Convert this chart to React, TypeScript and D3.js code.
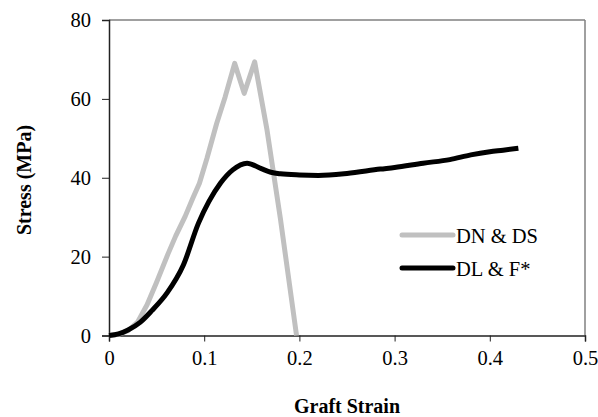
import React, { useEffect, useRef } from 'react';
import * as d3 from 'd3';

// DN & DS (gray)
const dnStrain = [0, 0.01, 0.02, 0.03, 0.04, 0.05, 0.062, 0.07, 0.08, 0.088, 0.095, 0.103, 0.113, 0.122, 0.132, 0.142, 0.153, 0.166, 0.18, 0.197];
const dnStress = [0, 0.3, 1.2, 3.4, 7.8, 13.5, 20.7, 25.2, 30.2, 34.8, 38.6, 45, 53.7, 60.5, 69, 61.4, 69.4, 52.1, 29.7, 0];

// DL & F* (black)
const dlStrain = [0, 0.01, 0.02, 0.033, 0.045, 0.061, 0.078, 0.094, 0.105, 0.117, 0.13, 0.145, 0.16, 0.17, 0.18, 0.2, 0.22, 0.25, 0.285, 0.3, 0.33, 0.358, 0.38, 0.4, 0.414, 0.43];
const dlStress = [0, 0.4, 1.4, 3.4, 6.3, 10.8, 17.8, 28.5, 34, 38.6, 42, 43.7, 42.3, 41.4, 41, 40.7, 40.6, 41.1, 42.2, 42.6, 43.7, 44.6, 45.8, 46.6, 47, 47.5];

const xTicks = [0, 0.1, 0.2, 0.3, 0.4, 0.5];
const yTicks = [0, 20, 40, 60, 80];

const seriesNames = ['DN & DS', 'DL & F*'];
const seriesColors = ['#c0c0c0', '#000000'];

const App = () => {
    const ref = useRef<SVGSVGElement>(null);

    useEffect(() => {
        document.body.style.margin = '0';
        const svg = d3.select(ref.current);
        svg.selectAll('*').remove();

        const x = d3.scaleLinear().domain([0, 0.5]).range([109, 585]);
        const y = d3.scaleLinear().domain([0, 80]).range([335.5, 20]);
        const font = '"Liberation Serif", "Times New Roman", serif';

        // frame top / right
        svg.append('line').attr('x1', x(0)).attr('x2', x(0.5)).attr('y1', y(80)).attr('y2', y(80))
            .attr('stroke', '#808080').attr('stroke-width', 1.5);
        svg.append('line').attr('x1', x(0.5)).attr('x2', x(0.5)).attr('y1', y(80)).attr('y2', y(0))
            .attr('stroke', '#808080').attr('stroke-width', 1.5);

        const xAxis = svg.append('g')
            .attr('transform', `translate(0,${y(0)})`)
            .call(d3.axisBottom(x).tickValues(xTicks).tickSize(6).tickPadding(9).tickFormat(d => d3.format('')(+d)));
        const yAxis = svg.append('g')
            .attr('transform', `translate(${x(0)},0)`)
            .call(d3.axisLeft(y).tickValues(yTicks).tickSize(7).tickPadding(11));

        [xAxis, yAxis].forEach(a => {
            a.select('.domain').attr('stroke', '#222').attr('stroke-width', 1.5);
            a.selectAll('.tick line').attr('stroke', '#222').attr('stroke-width', 1);
            a.selectAll('.tick text').attr('font-family', font).attr('font-size', 20.5).attr('fill', '#000');
        });

        const draw = (xs: number[], ys: number[], color: string, curve: any) => {
            const pts = xs.map((v, i) => [v, ys[i]] as [number, number]);
            svg.append('path')
                .datum(pts)
                .attr('fill', 'none')
                .attr('stroke', color)
                .attr('stroke-width', 5)
                .attr('stroke-linejoin', 'round')
                .attr('d', d3.line().x(d => x(d[0])).y(d => y(d[1])).curve(curve));
        };
        draw(dnStrain, dnStress, seriesColors[0], d3.curveLinear);
        draw(dlStrain, dlStress, seriesColors[1], d3.curveMonotoneX);

        // legend
        seriesNames.forEach((name, i) => {
            const ly = 235 + i * 33;
            svg.append('line').attr('x1', 402).attr('x2', 453).attr('y1', ly).attr('y2', ly)
                .attr('stroke', seriesColors[i]).attr('stroke-width', 5).attr('stroke-linecap', 'round');
            svg.append('text').attr('x', 456).attr('y', ly + 8).text(name)
                .attr('font-family', font).attr('font-size', 20.5).attr('fill', '#000');
        });

        svg.append('text').attr('x', (x(0) + x(0.5)) / 2).attr('y', 413).attr('text-anchor', 'middle')
            .attr('font-family', font).attr('font-size', 20).attr('font-weight', 'bold').text('Graft Strain');
        svg.append('text').attr('transform', `translate(31,180) rotate(-90)`).attr('text-anchor', 'middle')
            .attr('font-family', font).attr('font-size', 20).attr('font-weight', 'bold').text('Stress (MPa)');
    }, []);

    return <svg ref={ref} width={598} height={417} style={{ position: 'absolute', left: 0, top: 0, background: '#fff' }} />;
};

export default App;
